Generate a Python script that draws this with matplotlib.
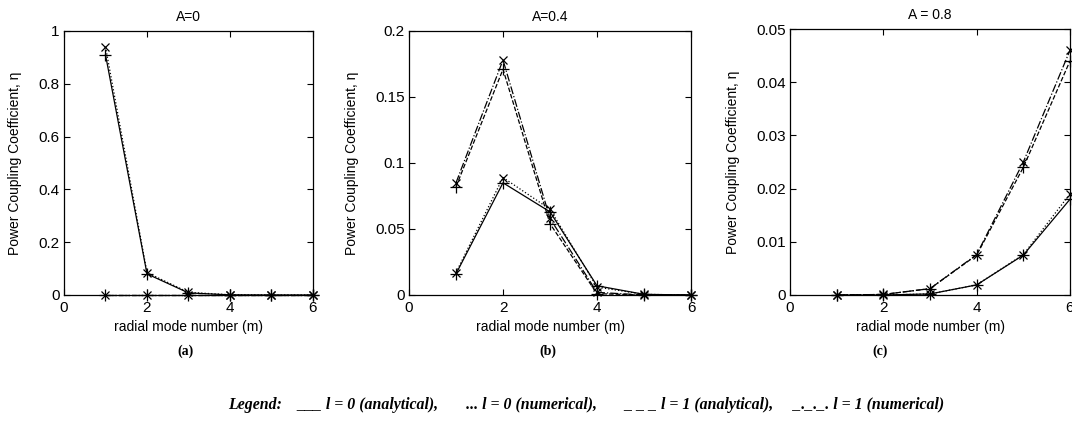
"""Power coupling coefficient vs radial mode number for three A values."""
import matplotlib
matplotlib.use("Agg")
import matplotlib.pyplot as plt
from matplotlib.ticker import FormatStrFormatter, MultipleLocator

plt.rcParams["font.family"] = ["Liberation Sans", "DejaVu Sans"]

# radial mode numbers
modes = [1, 2, 3, 4, 5, 6]

# A = 0
a0_l0_ana = [0.91, 0.08, 0.008, 0.0005, 0.0, 0.0]
a0_l0_num = [0.94, 0.085, 0.01, 0.001, 0.0, 0.0]
a0_l1_ana = [0.0, 0.0, 0.0, 0.0, 0.0, 0.0]
a0_l1_num = [0.0, 0.0, 0.0, 0.0, 0.0, 0.0]

# A = 0.4
a4_l0_ana = [0.016, 0.085, 0.063, 0.007, 0.0005, 0.0]
a4_l0_num = [0.017, 0.089, 0.065, 0.006, 0.0005, 0.0]
a4_l1_ana = [0.082, 0.171, 0.054, 0.001, 0.0, 0.0]
a4_l1_num = [0.085, 0.178, 0.058, 0.002, 0.0, 0.0]

# A = 0.8
a8_l0_ana = [0.0, 0.0, 0.0002, 0.0019, 0.0075, 0.018]
a8_l0_num = [0.0, 0.0, 0.0002, 0.0019, 0.0076, 0.019]
a8_l1_ana = [0.0, 0.0001, 0.0012, 0.0075, 0.024, 0.044]
a8_l1_num = [0.0, 0.0001, 0.0012, 0.0076, 0.025, 0.046]

titles = ["A=0", "A=0.4", "A = 0.8"]
ylims = [1.0, 0.2, 0.05]
ysteps = [0.2, 0.05, 0.01]
panel_tags = ["(a)", "(b)", "(c)"]

W, H = 1072, 422
# axes boxes in pixels: left, right, top, bottom
boxes = [(64, 313, 31, 295), (409, 691, 31, 295), (790, 1070, 29, 295)]
tag_x = [185, 548, 880]

fig = plt.figure(figsize=(W / 100, H / 100), dpi=100)

series = [
    (a0_l0_ana, a0_l0_num, a0_l1_ana, a0_l1_num),
    (a4_l0_ana, a4_l0_num, a4_l1_ana, a4_l1_num),
    (a8_l0_ana, a8_l0_num, a8_l1_ana, a8_l1_num),
]

for i, (l0a, l0n, l1a, l1n) in enumerate(series):
    left, right, top, bottom = boxes[i]
    ax = fig.add_axes([left / W, (H - bottom) / H, (right - left) / W, (bottom - top) / H])
    kw = dict(color="black", lw=0.9, markersize=8, markeredgewidth=0.9, clip_on=False)
    ax.plot(modes, l0a, linestyle="-", marker="+", **kw)
    ax.plot(modes, l0n, linestyle=":", marker="x", **dict(kw, markersize=5.5))
    ax.plot(modes, l1a, linestyle="--", marker="+", **kw)
    ax.plot(modes, l1n, linestyle="-.", marker="x", **dict(kw, markersize=5.5))

    ax.set_xlim(0, 6)
    ax.set_ylim(0, ylims[i])
    ax.xaxis.set_major_locator(MultipleLocator(2))
    ax.yaxis.set_major_locator(MultipleLocator(ysteps[i]))
    ax.yaxis.set_major_formatter(FormatStrFormatter("%g"))
    ax.tick_params(direction="in", top=True, right=True, length=4, width=0.8,
                   labelsize=11)
    ax.tick_params(axis="x", pad=4)
    ax.tick_params(axis="y", pad=3)
    for sp in ax.spines.values():
        sp.set_linewidth(0.9)
    ax.set_title(titles[i], fontsize=10, pad=7.5)
    ax.set_xlabel("radial mode number (m)", fontsize=10, labelpad=4)
    ax.set_ylabel("Power Coupling Coefficient, η", fontsize=10, labelpad=12)

    fig.text(tag_x[i] / W, 1 - 351 / H, panel_tags[i], ha="center", va="center",
             fontsize=10, fontweight="bold", family=["Liberation Serif", "DejaVu Serif"])

legend_txt = ("Legend:    ___ l = 0 (analytical),       ... l = 0 (numerical),       "
              "_ _ _ l = 1 (analytical),     _._._. l = 1 (numerical)")
fig.text(586 / W, 1 - 405 / H, legend_txt, ha="center", va="center", fontsize=11.4,
         fontweight="bold", fontstyle="italic", family=["Liberation Serif", "DejaVu Serif"])

fig.savefig("out.png", dpi=100)
